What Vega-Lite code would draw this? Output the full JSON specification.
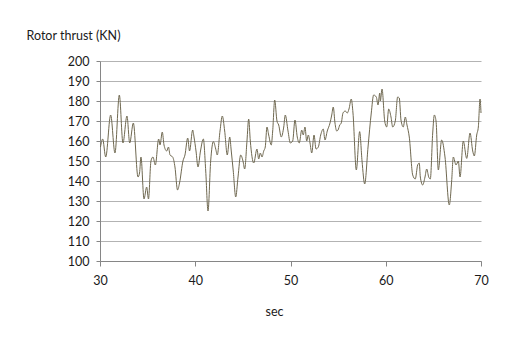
{
  "$schema": "https://vega.github.io/schema/vega-lite/v6.json",
  "width": 381,
  "height": 200,
  "autosize": "none",
  "padding": {"left": 100, "top": 61, "right": 41, "bottom": 82},
  "background": "white",
  "config": {
    "font": "Lato",
    "view": {"stroke": null},
    "axis": {
      "labelFont": "Lato",
      "labelFontSize": 12.5,
      "labelColor": "#1a1a1a",
      "titleFont": "Lato",
      "titleFontSize": 12.5,
      "titleFontWeight": "normal",
      "titleColor": "#1a1a1a",
      "domainColor": "#868686",
      "tickColor": "#868686",
      "gridColor": "#b3b3b3",
      "gridOpacity": 1
    }
  },
  "data": {
    "values": [
      {"t": 30.05, "thrust": 157}, {"t": 30.28, "thrust": 161}, {"t": 30.60, "thrust": 152},
      {"t": 31.12, "thrust": 173}, {"t": 31.57, "thrust": 154}, {"t": 32.03, "thrust": 183},
      {"t": 32.41, "thrust": 159}, {"t": 32.83, "thrust": 172.5}, {"t": 33.12, "thrust": 159},
      {"t": 33.50, "thrust": 169}, {"t": 33.99, "thrust": 142}, {"t": 34.15, "thrust": 144},
      {"t": 34.30, "thrust": 152}, {"t": 34.62, "thrust": 131}, {"t": 34.90, "thrust": 137},
      {"t": 35.09, "thrust": 131}, {"t": 35.35, "thrust": 150}, {"t": 35.56, "thrust": 152},
      {"t": 35.81, "thrust": 148}, {"t": 36.16, "thrust": 161}, {"t": 36.30, "thrust": 158},
      {"t": 36.54, "thrust": 164.5}, {"t": 36.72, "thrust": 158}, {"t": 37.00, "thrust": 155},
      {"t": 37.19, "thrust": 157}, {"t": 37.35, "thrust": 153}, {"t": 37.63, "thrust": 152},
      {"t": 37.87, "thrust": 147}, {"t": 38.14, "thrust": 135.5}, {"t": 38.35, "thrust": 139},
      {"t": 38.71, "thrust": 150}, {"t": 38.92, "thrust": 153}, {"t": 39.21, "thrust": 161.5},
      {"t": 39.40, "thrust": 155}, {"t": 39.73, "thrust": 165.5}, {"t": 39.87, "thrust": 162},
      {"t": 40.08, "thrust": 155}, {"t": 40.29, "thrust": 147}, {"t": 40.55, "thrust": 155},
      {"t": 40.85, "thrust": 161}, {"t": 41.10, "thrust": 145}, {"t": 41.34, "thrust": 125},
      {"t": 41.62, "thrust": 150}, {"t": 41.90, "thrust": 159.7}, {"t": 42.15, "thrust": 156},
      {"t": 42.31, "thrust": 153}, {"t": 42.60, "thrust": 165}, {"t": 42.84, "thrust": 172.5},
      {"t": 43.09, "thrust": 165}, {"t": 43.36, "thrust": 153}, {"t": 43.62, "thrust": 162},
      {"t": 43.78, "thrust": 155}, {"t": 43.99, "thrust": 145}, {"t": 44.25, "thrust": 132},
      {"t": 44.49, "thrust": 142}, {"t": 44.77, "thrust": 153}, {"t": 45.01, "thrust": 150},
      {"t": 45.19, "thrust": 146}, {"t": 45.43, "thrust": 160}, {"t": 45.61, "thrust": 171},
      {"t": 45.78, "thrust": 160}, {"t": 46.14, "thrust": 149}, {"t": 46.48, "thrust": 156},
      {"t": 46.66, "thrust": 151}, {"t": 46.83, "thrust": 154}, {"t": 47.01, "thrust": 152},
      {"t": 47.19, "thrust": 155}, {"t": 47.35, "thrust": 157}, {"t": 47.53, "thrust": 167},
      {"t": 47.71, "thrust": 163}, {"t": 47.98, "thrust": 158}, {"t": 48.13, "thrust": 165},
      {"t": 48.34, "thrust": 180.5}, {"t": 48.58, "thrust": 170}, {"t": 48.76, "thrust": 168},
      {"t": 49.03, "thrust": 162}, {"t": 49.29, "thrust": 167}, {"t": 49.45, "thrust": 173},
      {"t": 49.74, "thrust": 165}, {"t": 49.98, "thrust": 159}, {"t": 50.23, "thrust": 160},
      {"t": 50.47, "thrust": 170.5}, {"t": 50.71, "thrust": 162}, {"t": 50.92, "thrust": 159},
      {"t": 51.18, "thrust": 165.5}, {"t": 51.34, "thrust": 163}, {"t": 51.52, "thrust": 167},
      {"t": 51.70, "thrust": 160}, {"t": 51.87, "thrust": 163}, {"t": 52.05, "thrust": 159},
      {"t": 52.23, "thrust": 154}, {"t": 52.47, "thrust": 163}, {"t": 52.68, "thrust": 156},
      {"t": 52.92, "thrust": 157}, {"t": 53.17, "thrust": 163}, {"t": 53.44, "thrust": 166},
      {"t": 53.62, "thrust": 160.5}, {"t": 53.86, "thrust": 165}, {"t": 54.15, "thrust": 169},
      {"t": 54.33, "thrust": 173}, {"t": 54.49, "thrust": 177}, {"t": 54.67, "thrust": 169},
      {"t": 54.85, "thrust": 165}, {"t": 54.99, "thrust": 165.5}, {"t": 55.17, "thrust": 168},
      {"t": 55.33, "thrust": 169}, {"t": 55.51, "thrust": 174}, {"t": 55.75, "thrust": 175},
      {"t": 55.96, "thrust": 174}, {"t": 56.14, "thrust": 176}, {"t": 56.38, "thrust": 181},
      {"t": 56.56, "thrust": 174}, {"t": 56.91, "thrust": 145.5}, {"t": 57.26, "thrust": 164.7},
      {"t": 57.51, "thrust": 150}, {"t": 57.79, "thrust": 138.5}, {"t": 58.14, "thrust": 157},
      {"t": 58.48, "thrust": 174}, {"t": 58.73, "thrust": 183}, {"t": 59.01, "thrust": 182},
      {"t": 59.19, "thrust": 178}, {"t": 59.37, "thrust": 184}, {"t": 59.43, "thrust": 180},
      {"t": 59.61, "thrust": 186}, {"t": 59.89, "thrust": 170}, {"t": 60.10, "thrust": 167},
      {"t": 60.31, "thrust": 176}, {"t": 60.55, "thrust": 172}, {"t": 60.73, "thrust": 167},
      {"t": 61.00, "thrust": 170}, {"t": 61.25, "thrust": 182}, {"t": 61.42, "thrust": 181.5},
      {"t": 61.60, "thrust": 170.5}, {"t": 61.84, "thrust": 167}, {"t": 62.05, "thrust": 172},
      {"t": 62.23, "thrust": 168}, {"t": 62.47, "thrust": 162}, {"t": 62.83, "thrust": 143},
      {"t": 63.10, "thrust": 141}, {"t": 63.35, "thrust": 148}, {"t": 63.52, "thrust": 149},
      {"t": 63.63, "thrust": 142}, {"t": 63.88, "thrust": 138}, {"t": 64.12, "thrust": 142},
      {"t": 64.30, "thrust": 146}, {"t": 64.51, "thrust": 142}, {"t": 64.68, "thrust": 141},
      {"t": 64.93, "thrust": 164}, {"t": 65.10, "thrust": 173}, {"t": 65.28, "thrust": 170},
      {"t": 65.52, "thrust": 145.5}, {"t": 65.87, "thrust": 160.5}, {"t": 66.22, "thrust": 152},
      {"t": 66.67, "thrust": 128}, {"t": 66.92, "thrust": 140}, {"t": 67.09, "thrust": 152},
      {"t": 67.38, "thrust": 148}, {"t": 67.62, "thrust": 150}, {"t": 67.80, "thrust": 142},
      {"t": 68.14, "thrust": 160}, {"t": 68.50, "thrust": 151.3}, {"t": 68.85, "thrust": 164},
      {"t": 69.13, "thrust": 155}, {"t": 69.30, "thrust": 152.5}, {"t": 69.55, "thrust": 163},
      {"t": 69.72, "thrust": 167}, {"t": 69.90, "thrust": 181}, {"t": 70.00, "thrust": 174}
    ]
  },
  "mark": {"type": "line", "color": "#6f6850", "strokeWidth": 1, "interpolate": "monotone"},
  "encoding": {
    "x": {
      "field": "t",
      "type": "quantitative",
      "scale": {"domain": [30, 70], "nice": false},
      "axis": {
        "title": "sec",
        "values": [30, 40, 50, 60, 70],
        "grid": false,
        "tickSize": 5,
        "labelPadding": 8,
        "labelFlush": false,
        "titleX": 174,
        "titleY": 50,
        "titleBaseline": "middle"
      }
    },
    "y": {
      "field": "thrust",
      "type": "quantitative",
      "scale": {"domain": [100, 200], "nice": false, "zero": false},
      "axis": {
        "title": "Rotor thrust (KN)",
        "values": [100, 110, 120, 130, 140, 150, 160, 170, 180, 190, 200],
        "tickSize": 4,
        "labelPadding": 7,
        "titleAngle": 0,
        "titleAlign": "left",
        "titleBaseline": "middle",
        "titleX": -74,
        "titleY": -26
      }
    }
  }
}
